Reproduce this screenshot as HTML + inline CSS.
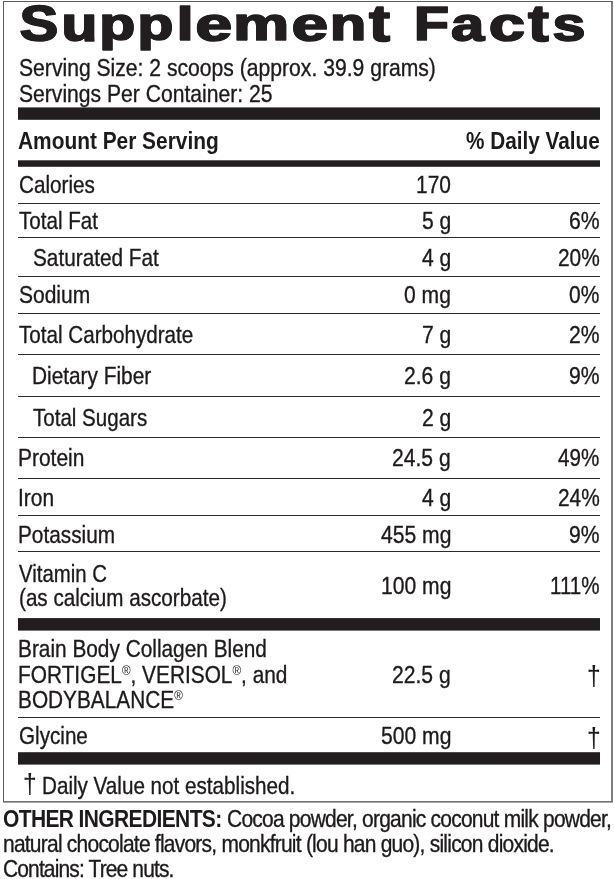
<!DOCTYPE html>
<html lang="en">
<head>
<meta charset="utf-8">
<title>Supplement Facts</title>
<style>
html,body{margin:0;padding:0;background:#fff;width:614px;height:879px;overflow:hidden}
.page{width:614px;height:879px;position:relative;overflow:hidden;background:#fff;font-family:'Liberation Sans', Arial, Helvetica, sans-serif;color:#1e1a1b}
.frame{position:absolute;left:3px;top:1px;width:610px;height:801px;box-sizing:border-box;border-style:solid;border-width:1px 2px 1px 1px;border-color:#5c5c5c #7d7d7d #707070 #5c5c5c}
.frame:after{content:"";position:absolute;left:-1px;right:-2px;bottom:-2px;height:1px;background:#a8a8a8}
.t{position:absolute;white-space:nowrap;transform-origin:0 0;font-size:24.4px;line-height:24.4px;margin:0;-webkit-text-stroke:0.35px #1e1a1b}
.b{font-weight:700;-webkit-text-stroke-width:0px}
.hr{position:absolute;left:18px;width:582px;height:1px;background:#2b2b2b}
.bar{position:absolute;left:18px;width:581.5px;background:#221e1f}
sup{font-size:56%;vertical-align:baseline;position:relative;top:-0.6em;line-height:0;-webkit-text-stroke-width:0}
h1{position:absolute;left:0;top:0;margin:0;white-space:pre;font-family:'Liberation Sans',Arial,Helvetica,sans-serif;font-weight:700;font-size:48px;line-height:48px;color:#221e1f;-webkit-text-stroke:1.6px #221e1f;text-shadow:0.9px 0 0 #221e1f,-0.9px 0 0 #221e1f,0.45px 0 0 #221e1f,-0.45px 0 0 #221e1f;}
h1 span{display:inline-block;transform-origin:0 0}
</style>
</head>
<body>
<main class="page">
<div class="frame"></div>
<h1 aria-label="Supplement Facts"><span style="transform:translate(19.76px,-0.47px) scale(1.199,1.028)">S</span><span style="transform:translate(29.58px,1.00px) scale(1.216,1.000)">u</span><span style="transform:translate(38.44px,1.30px) scale(1.216,0.969)">p</span><span style="transform:translate(46.48px,1.30px) scale(1.222,0.969)">p</span><span style="transform:translate(56.69px,1.40px) scale(1.256,0.965)">l</span><span style="transform:translate(62.42px,0.99px) scale(1.368,1.000)">e</span><span style="transform:translate(73.31px,0.50px) scale(1.306,0.976)">m</span><span style="transform:translate(88.77px,0.99px) scale(1.355,1.000)">e</span><span style="transform:translate(100.93px,0.50px) scale(1.232,0.976)">n</span><span style="transform:translate(110.26px,-1.42px) scale(1.286,1.067)">t</span> <span style="transform:translate(126.03px,-0.50px) scale(1.191,1.006)">F</span><span style="transform:translate(134.14px,0.98px) scale(1.232,1.000)">a</span><span style="transform:translate(144.93px,0.99px) scale(1.344,1.000)">c</span><span style="transform:translate(157.21px,-1.42px) scale(1.281,1.067)">t</span><span style="transform:translate(165.53px,0.98px) scale(1.227,1.000)">s</span></h1>
<div class="bar" style="top:107px;height:13px;background:linear-gradient(to bottom,rgba(34,30,31,0.6) 0 1px,#221e1f 1px 12px,rgba(34,30,31,0.8) 12px 13px)"></div>
<div class="bar" style="top:160px;height:7px;background:linear-gradient(to bottom,rgba(34,30,31,0.7) 0 1px,#221e1f 1px 6px,rgba(34,30,31,0.8) 6px 7px)"></div>
<div class="bar" style="top:618px;height:13px;background:linear-gradient(to bottom,rgba(34,30,31,0.9) 0 1px,#221e1f 1px 12px,rgba(34,30,31,0.6) 12px 13px)"></div>
<div class="bar" style="top:752px;height:13px;background:linear-gradient(to bottom,rgba(34,30,31,0.8) 0 1px,#221e1f 1px 12px,rgba(34,30,31,0.6) 12px 13px)"></div>
<div class="hr" style="top:203px"></div>
<div class="hr" style="top:237px"></div>
<div class="hr" style="top:276px"></div>
<div class="hr" style="top:313px"></div>
<div class="hr" style="top:354px"></div>
<div class="hr" style="top:396px"></div>
<div class="hr" style="top:437px"></div>
<div class="hr" style="top:478px"></div>
<div class="hr" style="top:515px"></div>
<div class="hr" style="top:551px"></div>
<div class="hr" style="top:717px"></div>
<div class="t" style="left:18.54px;top:56px;transform:scaleX(0.8662)">Serving Size: 2 scoops (approx. 39.9 grams)</div>
<div class="t" style="left:18.54px;top:82px;transform:scaleX(0.8653)">Servings Per Container: 25</div>
<div class="t b" style="left:17.97px;top:129px;transform:scaleX(0.8560)">Amount Per Serving</div>
<div class="t b" style="left:466.17px;top:129px;transform:scaleX(0.8501)">% Daily Value</div>
<div class="t" style="left:18.64px;top:173px;transform:scaleX(0.8491)">Calories</div>
<div class="t" style="left:415.61px;top:173px;transform:scaleX(0.8575)">170</div>
<div class="t" style="left:19.48px;top:209px;transform:scaleX(0.8451)">Total Fat</div>
<div class="t" style="left:421.69px;top:209px;transform:scaleX(0.8650)">5 g</div>
<div class="t" style="left:568.82px;top:209px;transform:scaleX(0.8689)">6%</div>
<div class="t" style="left:32.75px;top:246px;transform:scaleX(0.8517)">Saturated Fat</div>
<div class="t" style="left:421.69px;top:246px;transform:scaleX(0.8650)">4 g</div>
<div class="t" style="left:557.64px;top:246px;transform:scaleX(0.8552)">20%</div>
<div class="t" style="left:18.55px;top:283px;transform:scaleX(0.8610)">Sodium</div>
<div class="t" style="left:404.06px;top:283px;transform:scaleX(0.8650)">0 mg</div>
<div class="t" style="left:569.16px;top:283px;transform:scaleX(0.8593)">0%</div>
<div class="t" style="left:19.48px;top:323px;transform:scaleX(0.8454)">Total Carbohydrate</div>
<div class="t" style="left:421.69px;top:323px;transform:scaleX(0.8650)">7 g</div>
<div class="t" style="left:568.93px;top:323px;transform:scaleX(0.8657)">2%</div>
<div class="t" style="left:32.2px;top:364px;transform:scaleX(0.8538)">Dietary Fiber</div>
<div class="t" style="left:404.06px;top:364px;transform:scaleX(0.8650)">2.6 g</div>
<div class="t" style="left:568.93px;top:364px;transform:scaleX(0.8657)">9%</div>
<div class="t" style="left:33.28px;top:406px;transform:scaleX(0.8424)">Total Sugars</div>
<div class="t" style="left:421.69px;top:406px;transform:scaleX(0.8650)">2 g</div>
<div class="t" style="left:18.09px;top:446px;transform:scaleX(0.8595)">Protein</div>
<div class="t" style="left:392.39px;top:446px;transform:scaleX(0.8650)">24.5 g</div>
<div class="t" style="left:558.18px;top:446px;transform:scaleX(0.8440)">49%</div>
<div class="t" style="left:18.18px;top:486px;transform:scaleX(0.8571)">Iron</div>
<div class="t" style="left:421.69px;top:486px;transform:scaleX(0.8650)">4 g</div>
<div class="t" style="left:557.64px;top:486px;transform:scaleX(0.8552)">24%</div>
<div class="t" style="left:18.1px;top:523px;transform:scaleX(0.8524)">Potassium</div>
<div class="t" style="left:380.6px;top:523px;transform:scaleX(0.8650)">455 mg</div>
<div class="t" style="left:568.93px;top:523px;transform:scaleX(0.8657)">9%</div>
<div class="t" style="left:19.3px;top:562px;transform:scaleX(0.8363)">Vitamin C</div>
<div class="t" style="left:18.84px;top:586px;transform:scaleX(0.8470)">(as calcium ascorbate)</div>
<div class="t" style="left:380.6px;top:574px;transform:scaleX(0.8650)">100 mg</div>
<div class="t" style="left:549.93px;top:574px;transform:scaleX(0.8426)">111%</div>
<div class="t" style="left:18.3px;top:637px;transform:scaleX(0.8538)">Brain Body Collagen Blend</div>
<div class="t" style="left:18.4px;top:663px;transform:scaleX(0.8548)">FORTIGEL<sup>®</sup>, VERISOL<sup>®</sup>, and</div>
<div class="t" style="left:18.4px;top:688px;transform:scaleX(0.8534)">BODYBALANCE<sup>®</sup></div>
<div class="t" style="left:392.39px;top:663px;transform:scaleX(0.8650)">22.5 g</div>
<div class="t" style="left:586.69px;top:662.12px;transform:scale(1.0071,1.1414);-webkit-text-stroke-width:0.1px">†</div>
<div class="t" style="left:18.65px;top:724px;transform:scaleX(0.8466)">Glycine</div>
<div class="t" style="left:380.6px;top:724px;transform:scaleX(0.8650)">500 mg</div>
<div class="t" style="left:586.69px;top:723.53px;transform:scale(1.0071,1.1312);-webkit-text-stroke-width:0.1px">†</div>
<div class="t" style="left:23.09px;top:770.86px;transform:scale(1.0071,1.1057);-webkit-text-stroke-width:0.1px">†</div>
<div class="t" style="left:41.91px;top:774px;transform:scaleX(0.8464)">Daily Value not established.</div>
<div class="t b" style="left:3.44px;top:807px;transform:scaleX(0.8600);letter-spacing:-0.71px">OTHER INGREDIENTS:</div>
<div class="t" style="left:226.63px;top:807px;transform:scaleX(0.8600);letter-spacing:-0.889px">Cocoa powder, organic coconut milk powder,</div>
<div class="t" style="left:2.91px;top:832px;transform:scaleX(0.8600);letter-spacing:-0.887px">natural chocolate flavors, monkfruit (lou han guo), silicon dioxide.</div>
<div class="t" style="left:3.43px;top:857px;transform:scaleX(0.8600);letter-spacing:-0.999px">Contains: Tree nuts.</div>
</main>
</body>
</html>
